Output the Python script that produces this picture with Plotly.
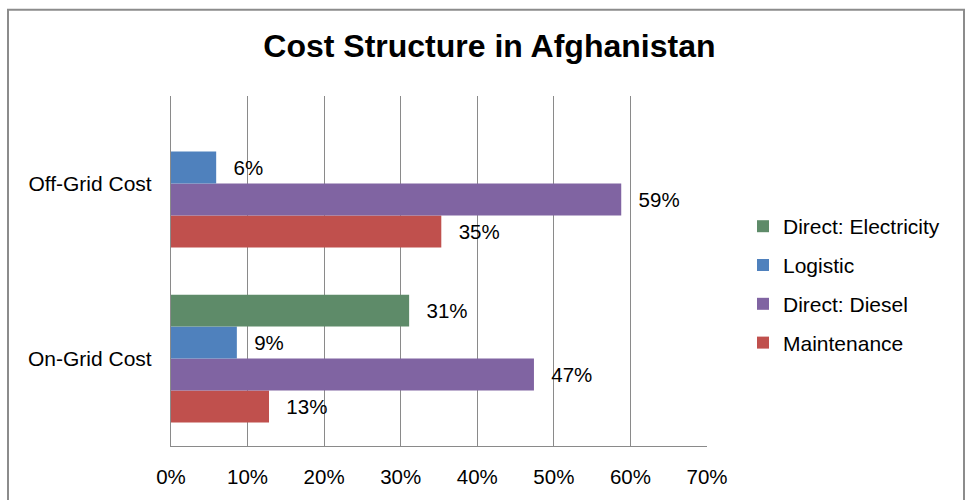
import plotly.graph_objects as go

# ---- data ----
categories = ["On-Grid Cost", "Off-Grid Cost"]
maintenance = [0.128, 0.353]
direct_diesel = [0.474, 0.588]
logistic = [0.086, 0.059]
direct_electricity = [0.311, None]
x_tick_values = [0, 0.1, 0.2, 0.3, 0.4, 0.5, 0.6, 0.7]

series = [
    ("Maintenance", maintenance, "#C0504D", 4),
    ("Direct: Diesel", direct_diesel, "#8064A2", 3),
    ("Logistic", logistic, "#4F81BD", 2),
    ("Direct: Electricity", direct_electricity, "#5E8B69", 1),
]

FONT = "Arial, 'Liberation Sans', sans-serif"

fig = go.Figure()
for name, vals, color, rank in series:
    fig.add_trace(go.Bar(
        y=categories, x=vals, name=name, orientation="h",
        marker=dict(color=color, line=dict(width=0)),
        texttemplate="\u2002\u2009%{x:.0%}",
        textposition="outside",
        textfont=dict(family=FONT, size=20.5, color="#000000"),
        cliponaxis=False,
        legendgroup=name,
        legendrank=rank,
    ))

W, H = 971, 500
L, R, T, B = 171, 264, 96, 51
pw, ph = W - L - R, H - T - B

def px_x(px):
    return (px - L) / pw

def px_y(py):
    return (H - B - py) / ph

fig.update_layout(
    width=W, height=H,
    margin=dict(l=L, r=R, t=T, b=B, pad=0),
    paper_bgcolor="white", plot_bgcolor="white",
    barmode="group", bargap=0.27, bargroupgap=0,
    font=dict(family=FONT, size=20.5, color="#000000"),
    title=dict(text="<b>Cost Structure in Afghanistan</b>",
               font=dict(family=FONT, size=32, color="#000000"),
               x=0.504, xanchor="center", y=1 - 46 / H, yanchor="middle"),
    legend=dict(x=px_x(743), xanchor="left", y=px_y(207), yanchor="top",
                traceorder="grouped", tracegroupgap=8.5,
                font=dict(family=FONT, size=21, color="#000000"),
                bgcolor="rgba(0,0,0,0)"),
    xaxis=dict(range=[0, 0.7], tickvals=x_tick_values, tickformat=".0%",
               showgrid=True, gridcolor="#8A8A8A", gridwidth=1.2,
               showline=True, linecolor="#8A8A8A", linewidth=1.2,
               ticks="", ticklabelstandoff=12, zeroline=False,
               tickfont=dict(family=FONT, size=20.5, color="#000000")),
    yaxis=dict(showgrid=False, showline=True, linecolor="#8A8A8A", linewidth=1.2,
               ticks="", ticklabelstandoff=14,
               tickfont=dict(family=FONT, size=21, color="#000000")),
    showlegend=True,
)

# outer chart border
fig.add_shape(type="rect", xref="paper", yref="paper",
              x0=px_x(8), x1=px_x(964), y0=px_y(520), y1=px_y(9),
              line=dict(color="#8C8C8C", width=2), fillcolor="rgba(0,0,0,0)",
              layer="below")

fig.write_html("out.html", config={"displayModeBar": False},
               post_script="document.body.style.margin='0';")
